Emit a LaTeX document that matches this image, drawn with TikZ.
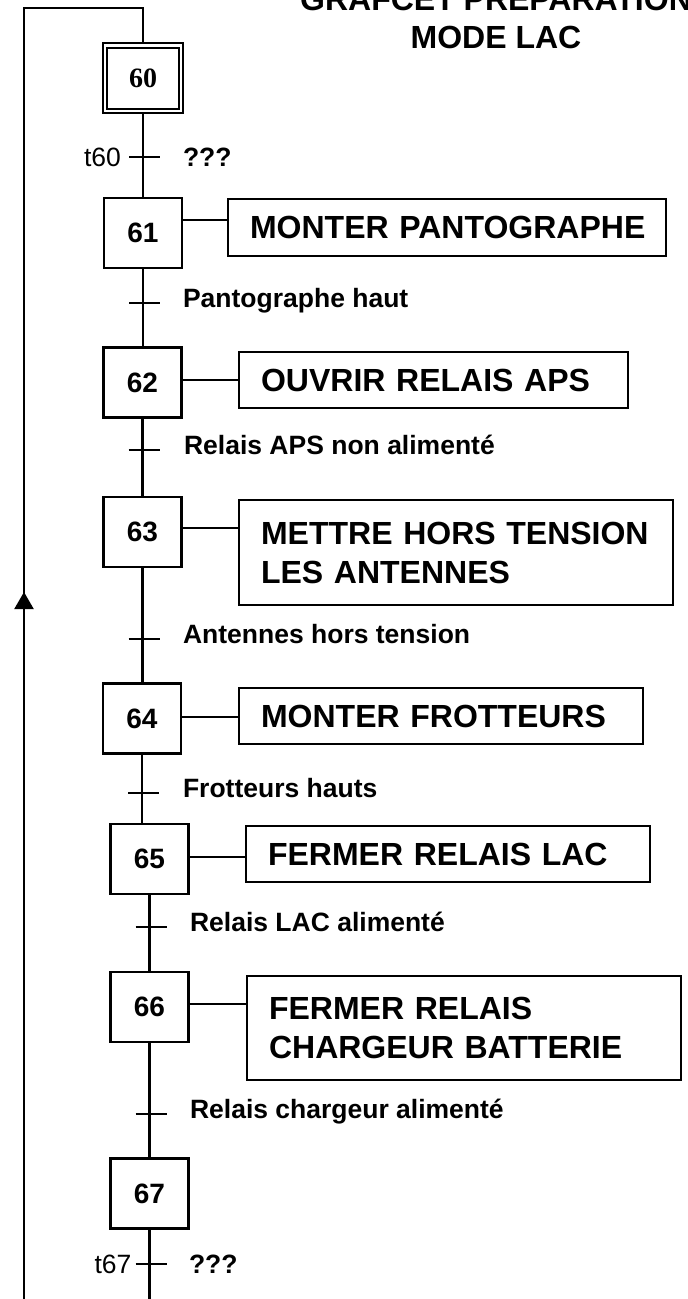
\documentclass[tikz,border=0pt]{standalone}
\usepackage{fontspec}
\setmainfont{Liberation Sans}
\newfontfamily\serifnum{Liberation Serif}
\usetikzlibrary{arrows.meta,decorations.markings}
\begin{document}
\begin{tikzpicture}[x=1pt,y=-1pt,
  line width=2.1pt,
  stepbox/.style={draw, minimum width=78pt, minimum height=70pt, inner sep=0pt,
    font=\fontsize{28}{32}\selectfont\bfseries},
  initbox/.style={stepbox, minimum width=80pt, line width=2.4pt,
    font=\fontsize{28}{32}\selectfont\serifnum\bfseries},
  actbox/.style={draw, anchor=north west, inner xsep=22pt, inner ysep=0pt, align=left,
    font=\fontsize{32}{39}\selectfont\bfseries},
  trlabel/.style={anchor=base west, inner sep=0pt, font=\fontsize{26.5}{30}\selectfont\bfseries},
  tname/.style={anchor=east, inner sep=0pt, font=\fontsize{26.5}{30}\selectfont},
  tcond/.style={anchor=west, inner sep=0pt, font=\fontsize{26.5}{30}\selectfont\bfseries},
  titlestyle/.style={anchor=base, inner sep=0pt, font=\fontsize{32}{38}\selectfont\bfseries},
  tick/.style={line width=1.9pt},
  ]
\useasboundingbox (0,0) rectangle (688,1299);
\fill[white] (0,0) rectangle (688,1299);
\clip (0,0) rectangle (688,1299);

% title
\node[titlestyle] (title1) at (496,10) {GRAFCET PREPARATION};
\node[titlestyle] (title2) at (496,48) {MODE LAC};

% steps
\node[initbox] (s60) at (143,78) {60};
\draw[line width=2.1pt] ([shift={(5,6)}]s60.north west) rectangle ([shift={(-5,-5)}]s60.south east);
\node[stepbox] (s61) at (143,233) {61};
\node[stepbox] (s62) at (142.5,382.5) {62};
\node[stepbox] (s63) at (142.5,532) {63};
\node[stepbox] (s64) at (142,718.5) {64};
\node[stepbox] (s65) at (149.5,859) {65};
\node[stepbox] (s66) at (149.5,1007) {66};
\node[stepbox] (s67) at (149.5,1193.5) {67};

% actions
\node[actbox, text width=394pt, minimum width=438pt, minimum height=57pt] (a61) at (227,198) {\mbox{MONTER PANTOGRAPHE}};
\node[actbox, text width=345pt, minimum width=389pt, minimum height=56pt] (a62) at (238,351) {\mbox{OUVRIR RELAIS APS}};
\node[actbox, text width=390pt, minimum width=434pt, minimum height=105pt] (a63) at (238,499) {\mbox{METTRE HORS TENSION}\\\mbox{LES ANTENNES}};
\node[actbox, text width=360pt, minimum width=404pt, minimum height=56pt] (a64) at (238,687) {\mbox{MONTER FROTTEURS}};
\node[actbox, text width=360pt, minimum width=404pt, minimum height=56pt] (a65) at (245,825) {\mbox{FERMER RELAIS LAC}};
\node[actbox, text width=390pt, minimum width=434pt, minimum height=104pt] (a66) at (246,975) {\mbox{FERMER RELAIS}\\\mbox{CHARGEUR BATTERIE}};

% step-action connectors
\coordinate (k61) at (0,220);
\coordinate (k62) at (0,380);
\coordinate (k63) at (0,528);
\coordinate (k64) at (0,717);
\coordinate (k65) at (0,857);
\coordinate (k66) at (0,1004);
\draw (s61.east |- k61) -- (a61.west |- k61);
\draw (s62.east |- k62) -- (a62.west |- k62);
\draw (s63.east |- k63) -- (a63.west |- k63);
\draw (s64.east |- k64) -- (a64.west |- k64);
\draw (s65.east |- k65) -- (a65.west |- k65);
\draw (s66.east |- k66) -- (a66.west |- k66);

% links between steps
\draw (s60.south) -- (s60.south |- s61.north);
\draw (s61.south) -- (s61.south |- s62.north);
\draw (s62.south) -- (s62.south |- s63.north);
\draw (s63.south) -- (s63.south |- s64.north);
\draw (s64.south) -- (s64.south |- s65.north);
\draw (s65.south) -- (s65.south |- s66.north);
\draw (s66.south) -- (s66.south |- s67.north);
\coordinate (e67) at (149.5,1302);
\draw (s67.south) -- (e67);

% transitions
\coordinate (t60) at (s60.south |- 0,157);
\coordinate (t61) at (s61.south |- 0,303);
\coordinate (t62) at (s62.south |- 0,450);
\coordinate (t63) at (s63.south |- 0,639);
\coordinate (t64) at (s64.south |- 0,793);
\coordinate (t65) at (s65.south |- 0,927);
\coordinate (t66) at (s66.south |- 0,1114);
\coordinate (t67) at (s67.south |- 0,1264);
\foreach \t in {t60,t61,t62,t63,t64,t65,t66,t67}{
  \draw[tick] ([xshift=-14pt]\t) -- ([xshift=17pt]\t);
}

\node[tname] (n60) at ([xshift=-21pt]t60) {t60};
\node[tcond] (c60) at ([xshift=39pt]t60) {???};
\node[tname] (n67) at ([xshift=-17pt]t67) {t67};
\node[tcond] (c67) at ([xshift=38.5pt]t67) {???};

\node[trlabel] (c61) at (182,307) {Pantographe haut};
\node[trlabel] (c62) at (183,454) {Relais APS non alimenté};
\node[trlabel] (c63) at (182,643) {Antennes hors tension};
\node[trlabel] (c64) at (182,797) {Frotteurs hauts};
\node[trlabel] (c65) at (189,931) {Relais LAC alimenté};
\node[trlabel] (c66) at (189,1118) {Relais chargeur alimenté};

% return loop
\coordinate (lb) at (24,1302);
\coordinate (lt) at (24,8);
\coordinate (lr) at (143,8);
\draw[postaction={decorate},
  decoration={markings, mark=at position 710pt with {\arrow{Triangle[width=19pt,length=17pt]}}}]
  (lb) -- (lt) -- (lr) -- (s60.north);
\end{tikzpicture}
\end{document}
